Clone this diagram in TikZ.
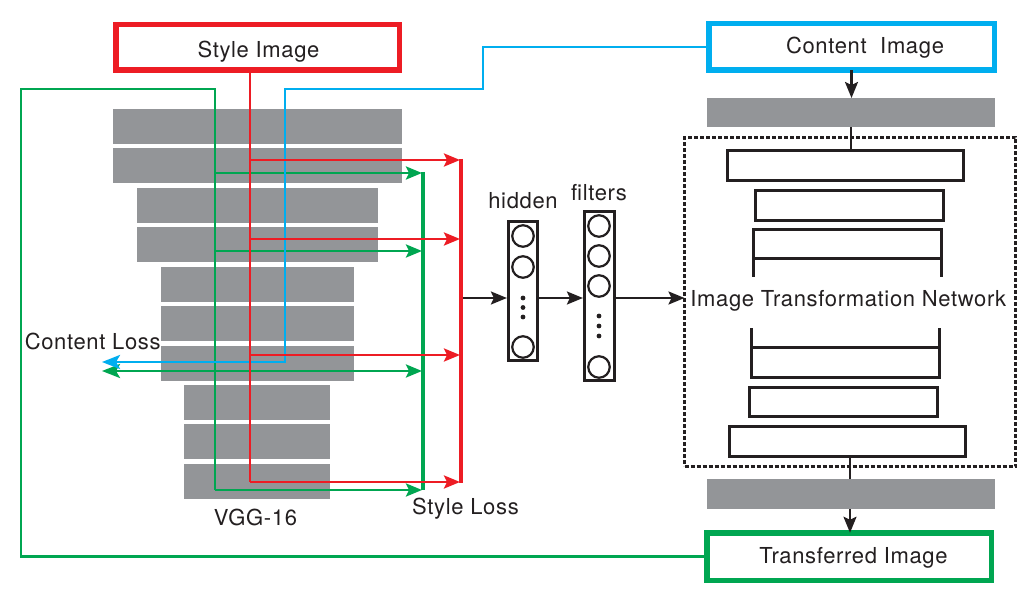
\documentclass[tikz,border=0pt]{standalone}
\usepackage{fontspec}
\setmainfont{TeX Gyre Heros}[LetterSpace=3]
\usetikzlibrary{arrows.meta}
\definecolor{sred}{HTML}{ED1C24}
\definecolor{cblue}{HTML}{00AEEF}
\definecolor{tgreen}{HTML}{00A651}
\definecolor{lgray}{HTML}{939598}
\definecolor{ink}{HTML}{231F20}
\begin{document}
\begin{tikzpicture}[x=1pt,y=-1pt,
  lbl/.style={font=\fontsize{22}{26}\selectfont, inner sep=0, anchor=base, text=ink},
  greybar/.style={fill=lgray, draw=none, inner sep=0, outer sep=0, minimum height=35pt},
  wbox/.style={draw=ink, line width=3.2pt, fill=white, inner sep=0, outer sep=0},
  bigbox/.style={line width=5.5pt, fill=white, inner sep=0, outer sep=0},
  neuron/.style={circle, draw=ink, line width=2.2pt, minimum size=21.5pt, inner sep=0},
  dotn/.style={circle, fill=ink, minimum size=4.8pt, inner sep=0},
  colln/.style={line width=2.8pt},
  blkarr/.style={draw=ink, line width=2.2pt, -{Stealth[length=16pt,width=13pt,inset=3pt]}},
  colarr/.style={-{Stealth[length=16pt,width=13pt,inset=3pt]}},
  bigarr/.style={-{Stealth[length=18pt,width=14pt,inset=4pt]}},
  ext/.style={draw=ink, line width=2.6pt}
]
\useasboundingbox (0,0) rectangle (1035,593);
\fill[white] (0,0) rectangle (1035,593);

% VGG-16 grey bars
\node[greybar, minimum width=289pt] (v1) at (257.5,126.5) {};
\node[greybar, minimum width=289pt] (v2) at (257.5,165.5) {};
\node[greybar, minimum width=241pt] (v3) at (257.5,205.5) {};
\node[greybar, minimum width=241pt] (v4) at (257.5,244.5) {};
\node[greybar, minimum width=193pt] (v5) at (257.5,284.5) {};
\node[greybar, minimum width=193pt] (v6) at (257.5,323.5) {};
\node[greybar, minimum width=193pt] (v7) at (257.5,363) {};
\node[greybar, minimum width=146pt] (v8) at (257,402.5) {};
\node[greybar, minimum width=146pt] (v9) at (257,441.5) {};
\node[greybar, minimum width=146pt] (v10) at (257,481.5) {};

% big boxes
\node[bigbox, draw=sred, minimum width=283.5pt, minimum height=45.5pt] (style) at (257.5,47.5) {};
\node[bigbox, draw=cblue, minimum width=285.5pt, minimum height=46.5pt] (content) at (851.5,47) {};
\node[bigbox, draw=tgreen, minimum width=284.5pt, minimum height=47.5pt] (transf) at (849,556.5) {};
\node[lbl] (styletxt) at (258.5,57.3) {Style Image};
\node[lbl] (contenttxt) at (865,53.3) {Content\ \ Image};
\node[lbl] (transftxt) at (853.5,563.3) {Transferred Image};

% right side grey bars
\node[greybar, minimum width=288pt, minimum height=29pt] (g1) at (851,112.5) {};
\node[greybar, minimum width=288pt, minimum height=30pt] (g2) at (851,494) {};

% dashed frame
\node[draw=ink, line width=3.4pt, dash pattern=on 4pt off 2pt, inner sep=0, outer sep=0,
      minimum width=331pt, minimum height=329pt] (itn) at (850,302) {};

% white boxes
\node[wbox, minimum width=236pt, minimum height=30pt] (t1) at (845.5,165.5) {};
\node[wbox, minimum width=188pt, minimum height=30pt] (t2) at (849.5,205.5) {};
\node[wbox, minimum width=188pt, minimum height=29pt] (t3) at (847.5,244) {};
\node[wbox, minimum width=188pt, minimum height=30pt] (t4) at (845.5,362.5) {};
\node[wbox, minimum width=188pt, minimum height=29pt] (t5) at (843.5,402) {};
\node[wbox, minimum width=236pt, minimum height=30pt] (t6) at (847.5,441.5) {};
\coordinate (e3l) at (753.5,277);
\coordinate (e3r) at (941.5,277);
\coordinate (e4l) at (751.5,328);
\coordinate (e4r) at (939.5,328);
\draw[ext] (t3.south west) -- (e3l);
\draw[ext] (t3.south east) -- (e3r);
\draw[ext] (t4.north west) -- (e4l);
\draw[ext] (t4.north east) -- (e4r);
\node[lbl] (itntxt) at (848.3,307) {Image Transformation Network};

% right column arrows
\draw[blkarr] (content.south) -- (content.south |- g1.north);
\draw[ink, line width=2.2pt] (g1.south) -- (g1.south |- t1.north);
\draw[ink, line width=2.2pt] (g2.north -| 850,0) -- (t6.south -| 850,0);
\draw[blkarr] (g2.south -| 850,0) -- (transf.north -| 850,0);

% hidden & filters
\node[draw=ink, line width=3.2pt, inner sep=0, minimum width=29pt, minimum height=139pt] (hid) at (523,291) {};
\node[draw=ink, line width=3.2pt, inner sep=0, minimum width=30pt, minimum height=169pt] (fil) at (599.5,296) {};
\node[neuron] (h1) at (523,236) {};
\node[neuron] (h2) at (523,267) {};
\node[neuron] (h3) at (523,347) {};
\node[dotn] (hd1) at (523,298) {};
\node[dotn] (hd2) at (523,307.5) {};
\node[dotn] (hd3) at (523,317) {};
\node[neuron] (f1) at (599,226) {};
\node[neuron] (f2) at (599,256) {};
\node[neuron] (f3) at (599,286) {};
\node[neuron] (f4) at (599,367) {};
\node[dotn] (fd1) at (599,316) {};
\node[dotn] (fd2) at (599,326) {};
\node[dotn] (fd3) at (599,336) {};
\node[lbl] (hidtxt) at (523,208.3) {hidden};
\node[lbl] (filtxt) at (599,200.7) {filters};

\coordinate (mid) at (463,298);
\draw[blkarr] (mid) -- (hid.west |- mid);
\draw[blkarr] (hid.east |- mid) -- (fil.west |- mid);
\draw[blkarr] (fil.east |- mid) -- (itn.west |- mid);

% green connectors
\coordinate (gc1) at (21,89);
\coordinate (gc2) at (215,89);
\coordinate (gb1) at (215,173);
\coordinate (gb2) at (215,251);
\coordinate (gb3) at (215,371);
\coordinate (gb4) at (215,490);
\coordinate (G1) at (422,173);
\coordinate (G2) at (422,251);
\coordinate (G3) at (422,371);
\coordinate (G4) at (422,490);
\coordinate (gleft) at (102,371);
\draw[tgreen, colln] (transf.west) -| (gc1) -- (gc2) -- (gb4);
\draw[tgreen, line width=4.2pt] (423,172) -- (423,490);
\foreach \i in {1,2,3,4} {\draw[tgreen, colln, colarr] (gb\i) -- (G\i);}
\draw[tgreen, colln, bigarr] (gb3) -- (gleft);

% blue connector
\coordinate (bc1) at (483,89);
\coordinate (bc2) at (285,89);
\coordinate (bc3) at (285,362);
\coordinate (bleft) at (102,362);
\draw[cblue, colln, bigarr] (content.west) -| (bc1) -- (bc2) -- (bc3) -- (bleft);

% red connectors
\coordinate (r1) at (250,160);
\coordinate (r2) at (250,239);
\coordinate (r3) at (250,355);
\coordinate (r4) at (250,482);
\coordinate (R1) at (460,160);
\coordinate (R2) at (460,239);
\coordinate (R3) at (460,355);
\coordinate (R4) at (460,482);
\draw[sred, colln] (style.south -| r1) -- (r4);
\draw[sred, line width=3.2pt] (461,159) -- (461,483);
\foreach \i in {1,2,3,4} {\draw[sred, colln, colarr] (r\i) -- (R\i);}

% labels
\node[lbl] (closs) at (92.7,349.3) {Content Loss};
\node[lbl] (sloss) at (465.5,514) {Style Loss};
\node[lbl] (vgg) at (255.5,525) {VGG-16};
\end{tikzpicture}
\end{document}
